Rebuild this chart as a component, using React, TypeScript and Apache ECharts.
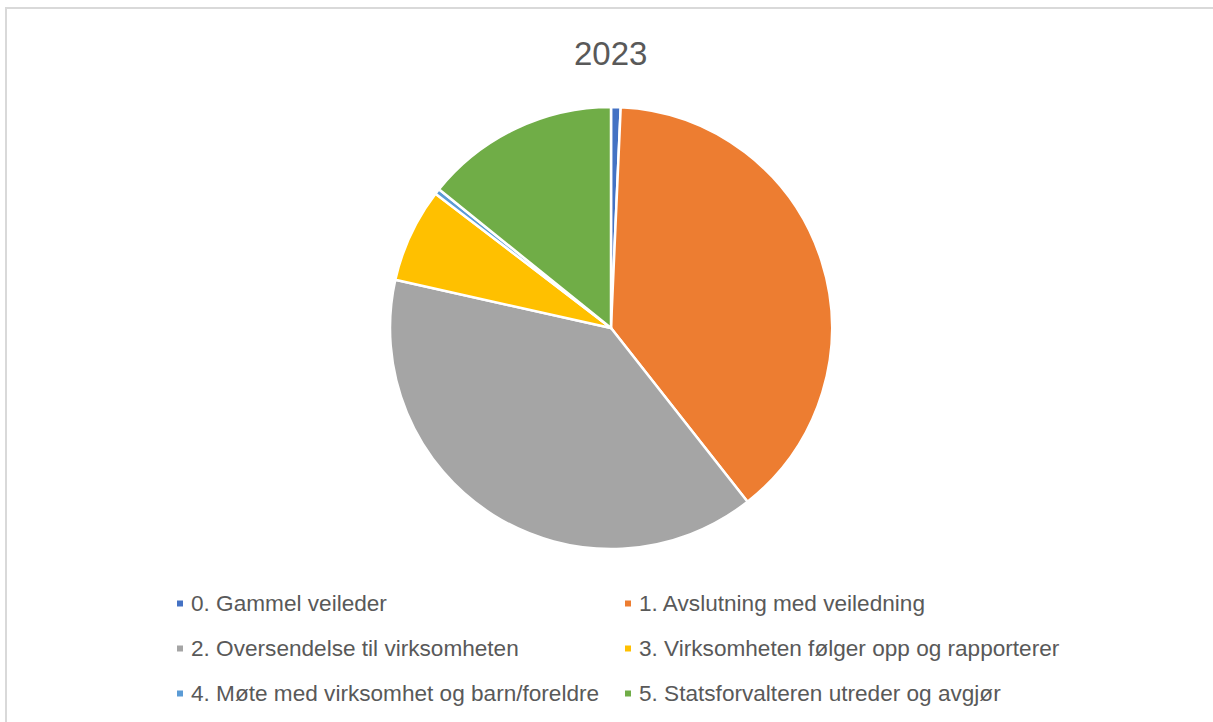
import React, { useEffect, useRef } from "react";
import * as echarts from "echarts";

const titleText = "2023";
const categories = [
  "0. Gammel veileder",
  "1. Avslutning med veiledning",
  "2. Oversendelse til virksomheten",
  "3. Virksomheten følger opp og rapporterer",
  "4. Møte med virksomhet og barn/foreldre",
  "5. Statsforvalteren utreder og avgjør",
];
const values = [0.7, 38.7, 39.1, 6.9, 0.4, 14.2];
const colors = ["#4472C4", "#ED7D31", "#A5A5A5", "#FFC000", "#5B9BD5", "#70AD47"];
const legendLeftCol = [categories[0], categories[2], categories[4]];
const legendRightCol = [categories[1], categories[3], categories[5]];

export default function App() {
  const ref = useRef<HTMLDivElement>(null);
  useEffect(() => {
    if (!ref.current) return;
    const chart = echarts.init(ref.current, null, { renderer: "svg" });
    const font = "'Liberation Sans', Arial, sans-serif";
    const legendCommon = {
      orient: "vertical",
      icon: "rect",
      itemWidth: 8,
      itemHeight: 8,
      itemGap: 22,
      padding: 0,
      selectedMode: false,
      textStyle: {
        color: "#595959",
        fontSize: 22.6,
        lineHeight: 22,
        fontFamily: font,
        padding: [0, 0, 0, 2],
      },
    };
    chart.setOption({
      animation: false,
      backgroundColor: "#ffffff",
      color: colors,
      title: {
        text: titleText,
        left: 574,
        top: 37,
        padding: 0,
        textStyle: {
          color: "#595959",
          fontSize: 33,
          lineHeight: 32,
          fontWeight: "normal",
          fontFamily: font,
        },
      },
      graphic: [
        {
          type: "rect",
          shape: { x: 6, y: 8, width: 1240, height: 740 },
          style: { fill: "none", stroke: "#d9d9d9", lineWidth: 2 },
          silent: true,
        },
      ],
      legend: [
        { ...legendCommon, left: 175, top: 592, data: legendLeftCol },
        { ...legendCommon, left: 623, top: 592, data: legendRightCol },
      ],
      series: [
        {
          type: "pie",
          center: [611, 328],
          radius: 221,
          startAngle: 90,
          clockwise: true,
          label: { show: false },
          labelLine: { show: false },
          emphasis: { disabled: true },
          itemStyle: { borderColor: "#ffffff", borderWidth: 2.5 },
          data: categories.map((name, i) => ({ name, value: values[i] })),
        },
      ],
    } as any);
    return () => chart.dispose();
  }, []);
  return (
    <div
      ref={ref}
      style={{ position: "fixed", left: 0, top: 0, width: 1213, height: 722 }}
    />
  );
}
